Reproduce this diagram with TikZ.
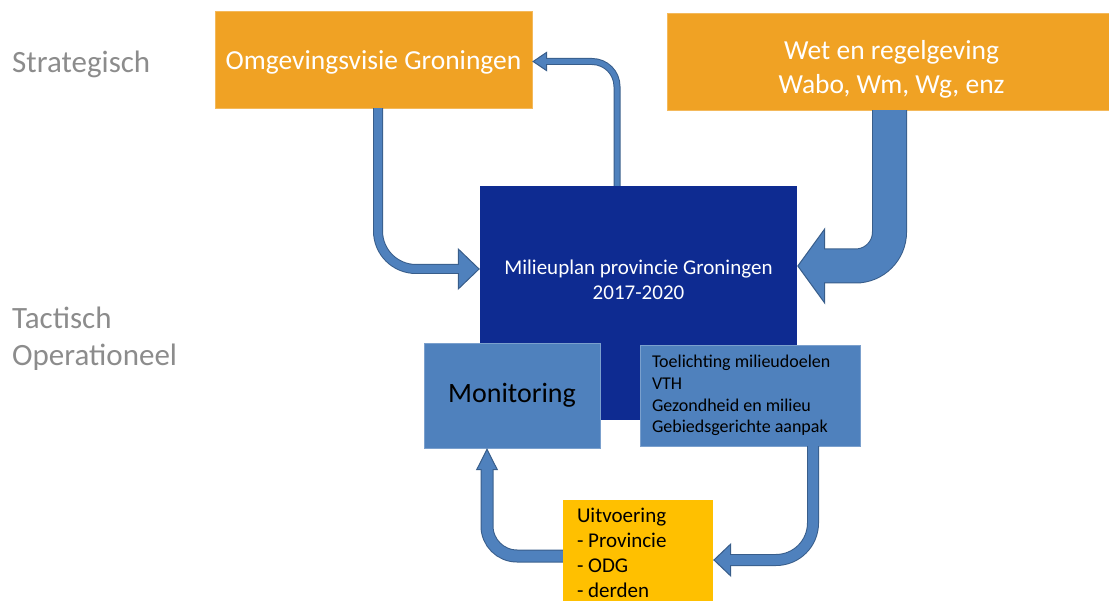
\documentclass[tikz,border=0pt]{standalone}
\usepackage{fontspec}
\setmainfont{Carlito}
\usepackage{tikz}
\usetikzlibrary{positioning,arrows.meta,calc}
\definecolor{stratorange}{RGB}{240,162,36}
\definecolor{planblue}{RGB}{14,43,145}
\definecolor{boxblue}{RGB}{79,129,189}
\definecolor{arrowedge}{RGB}{56,93,138}
\definecolor{uityellow}{RGB}{255,192,0}
\definecolor{labelgray}{RGB}{140,140,140}

\begin{document}
\begin{tikzpicture}[x=1pt, y=-1pt]
    \tikzstyle{level} = [anchor=west, align=left, inner sep=0pt, text=labelgray, font=\fontsize{31pt}{37pt}\selectfont]
    \tikzstyle{strat} = [rectangle, draw=stratorange!75!white, fill=stratorange, minimum height=97pt]
    \tikzstyle{strattext} = [text=white, align=center, font=\fontsize{27.5pt}{34pt}\selectfont]
    \tikzstyle{plan} = [rectangle, fill=planblue, minimum width=317pt, minimum height=234pt]
    \tikzstyle{sub} = [rectangle, draw=boxblue!75!white, fill=boxblue, text=black]
    \tikzset{flow/.style n args={3}{draw=arrowedge, line width=#1+2pt, -{Triangle[width=#2, length=#3, fill=boxblue, line width=1pt]},
        postaction={draw=boxblue, line width=#1, -, shorten >=#3-1.5pt}}}

    \useasboundingbox (0,0) rectangle (1109,601);

    % Levels
    \node [level] (strategisch) at (12,64) {Strategisch};
    \node [level] (tactisch) at (12,339) {Tactisch\\Operationeel};

    % Strategic boxes
    \node [strat, minimum width=317pt] (omg) at (373.5,59.5) {};
    \node [strattext] (omgtext) at (373.5,62.5) {Omgevingsvisie Groningen};
    \node [strat, minimum width=449pt] (wet) at (891.5,61.5) {};
    \node [strattext] (wettext) at (891.5,69.5) {Wet en regelgeving\\Wabo, Wm, Wg, enz};

    % Plan and its parts
    \node [plan] (plan) at (638.5,303) {};
    \node [text=white, align=center, font=\fontsize{21pt}{25pt}\selectfont] (plantext) at (638.5,280) {Milieuplan provincie Groningen\\2017-2020};
    \node [sub, minimum width=176pt, minimum height=105pt, font=\fontsize{28pt}{34pt}\selectfont] (mon) at (512,395.5) {Monitoring};
    \node [sub, minimum height=101pt, text width=196pt, inner xsep=12pt, align=flush left, font=\fontsize{18pt}{21.7pt}\selectfont] (toel) at (750,395.5)
        {Toelichting milieudoelen\\VTH\\Gezondheid en milieu\\Gebiedsgerichte aanpak};
    \node [fill=uityellow, minimum height=106pt, text width=122pt, inner xsep=14pt, align=flush left, font=\fontsize{21pt}{25pt}\selectfont] (uit) at (638,553)
        {Uitvoering\\- Provincie\\- ODG\\- derden};

    % Arrows
    \draw [flow={8pt}{42pt}{22pt}, rounded corners=38pt] ([xshift=4.5pt]omg.south) |- ([yshift=34pt]plan.west);
    \draw [flow={5pt}{20pt}{15pt}, rounded corners=25pt] ([xshift=-21.5pt]plan.north) |- ([yshift=-2pt]omg.east);
    \draw [flow={33pt}{77pt}{28pt}, rounded corners=34pt] ([xshift=-2pt]wet.south) |- ([yshift=37pt]plan.east);
    \draw [flow={10pt}{34pt}{18pt}, rounded corners=37pt] ([xshift=63pt]toel.south) |- ([yshift=-7pt]uit.east);
    \draw [flow={11pt}{22pt}{22pt}, rounded corners=30pt] ([yshift=-3pt]uit.west) -| ([xshift=-25pt]mon.south);
\end{tikzpicture}
\end{document}
